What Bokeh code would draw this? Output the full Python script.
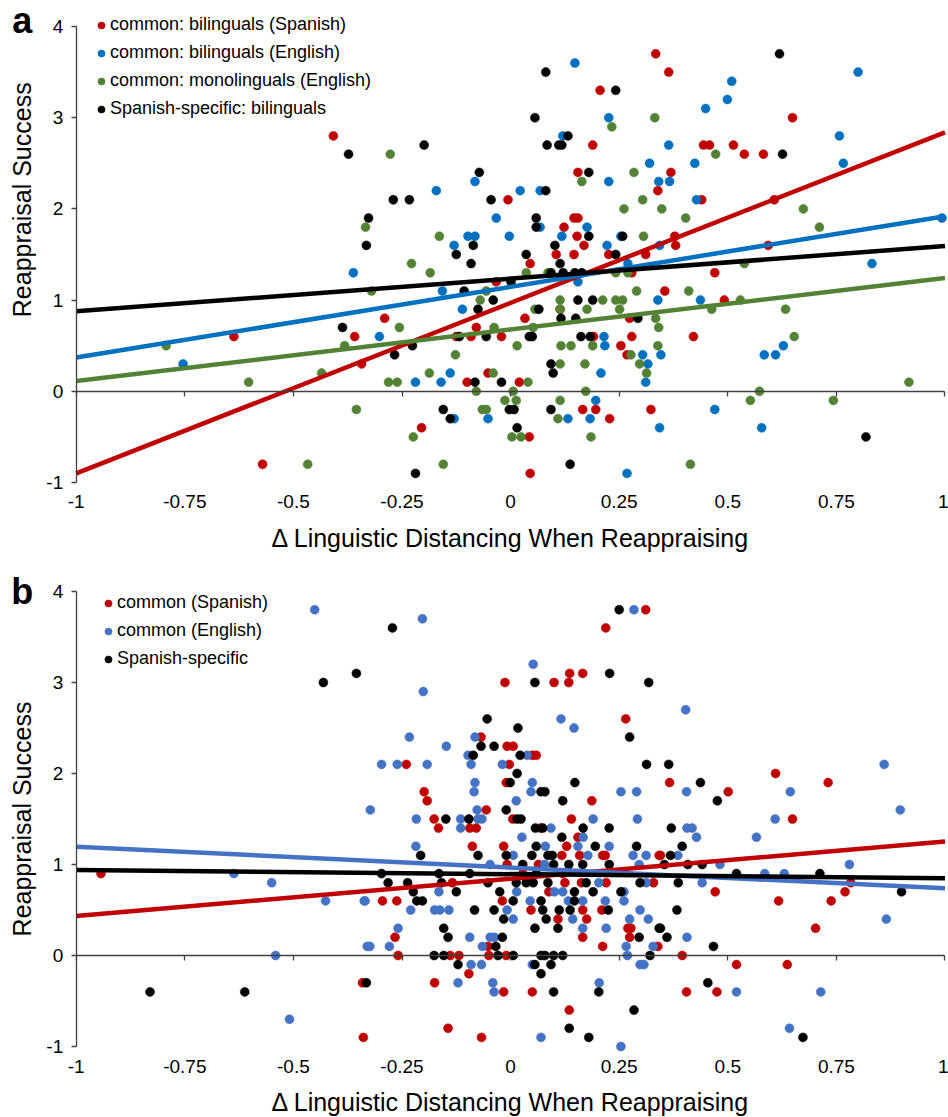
import math
from bokeh.plotting import figure
from bokeh.layouts import column
from bokeh.models import (Range1d, FixedTicker, NumeralTickFormatter, LinearAxis,
                          Legend, LegendItem, Label, CustomJSTickFormatter)
from bokeh.embed import file_html
from bokeh.resources import INLINE

FONT = "Liberation Sans"

x_ticks = [-1, -0.75, -0.5, -0.25, 0, 0.25, 0.5, 0.75, 1]
y_ticks = [-1, 0, 1, 2, 3, 4]
x_title = "Δ Linguistic Distancing When Reappraising"
y_title = "Reappraisal Success"

# ---------------- panel a ----------------
a_labels = ["common: bilinguals (Spanish)", "common: bilinguals (English)",
            "common: monolinguals (English)", "Spanish-specific: bilinguals"]
a_colors = ["#C00000", "#0070C0", "#548235", "#000000"]

a_red_x = [-0.408, 0.334, 0.206, 0.189, 0.155, 0.339, -0.006, 0.146, 0.155, 0.123,
           0.153, 0.169, 0.105, 0.146, 0.226, 0.311, 0.045, 0.364, 0.649, 0.444,
           0.458, 0.513, 0.538, 0.582, 0.369, 0.440, 0.607, 0.378, 0.380, 0.593,
           -0.359, -0.637, -0.343, -0.571, 0.279, -0.033, 0.114, -0.290, 0.033, 0.274,
           -0.079, -0.125, -0.091, -0.021, 0.191, 0.279, 0.254, 0.268, -0.052, -0.100,
           0.020, 0.166, 0.196, 0.323, 0.228, -0.205, 0.043, 0.045, 0.470, 0.355,
           0.492, 0.421]
a_red_y = [2.8, 3.7, 3.3, 2.7, 2.4, 2.2, 2.1, 1.9, 1.9, 1.8,
           1.7, 1.6, 1.5, 1.5, 1.5, 1.5, 1.4, 3.5, 3.0, 2.7,
           2.7, 2.7, 2.6, 2.6, 2.4, 2.1, 2.1, 1.7, 1.6, 1.6,
           0.6, 0.6, 0.3, -0.8, 1.3, 1.2, 0.9, 0.8, 0.8, 0.8,
           0.7, 0.6, 0.6, 0.6, 0.6, 0.6, 0.5, 0.4, 0.2, 0.1,
           0.1, -0.2, -0.2, -0.2, -0.3, -0.4, -0.5, -0.9, 1.3, 1.1,
           1.0, 0.6]

a_blue_x = [0.148, 0.226, 0.120, 0.320, -0.082, 0.226, 0.341, -0.171, 0.022, 0.068,
            -0.033, 0.176, 0.068, -0.098, -0.082, -0.003, 0.118, 0.254, -0.130, 0.222,
            0.800, 0.509, 0.499, 0.449, 0.364, 0.757, 0.766, 0.424, 0.366, 0.428,
            0.993, 0.343, -0.362, -0.754, 0.270, -0.157, 0.155, 0.339, -0.111, -0.302,
            0.215, 0.217, 0.304, 0.346, 0.316, -0.139, 0.208, -0.219, -0.160, 0.311,
            0.196, -0.130, -0.052, 0.132, 0.183, 0.343, 0.268, 0.832, 0.437, 0.584,
            0.610, 0.628, 0.470, 0.578]
a_blue_y = [3.6, 3.0, 2.8, 2.5, 2.3, 2.3, 2.3, 2.2, 2.2, 2.2,
            1.9, 1.8, 1.8, 1.7, 1.7, 1.7, 1.7, 1.7, 1.6, 1.6,
            3.5, 3.4, 3.2, 3.1, 2.7, 2.8, 2.5, 2.5, 2.3, 2.1,
            1.9, 1.6, 1.3, 0.3, 1.4, 1.1, 1.2, 1.0, 0.9, 0.6,
            0.6, 0.5, 0.4, 0.4, 0.3, 0.2, 0.2, 0.1, 0.1, 0.1,
            -0.1, -0.3, -0.3, -0.3, -0.3, -0.4, -0.9, 1.4, 1.0, 0.4,
            0.4, 0.5, -0.2, -0.4]

a_green_x = [-0.334, 0.233, 0.332, -0.277, 0.164, 0.284, 0.304, 0.261, 0.348, -0.164,
             0.306, -0.228, 0.472, 0.403, 0.674, 0.711, -0.793, -0.382, -0.435, -0.603,
             -0.355, -0.467, -0.185, 0.036, 0.086, 0.242, 0.270, -0.320, -0.056, 0.290,
             -0.070, 0.114, 0.212, 0.242, 0.258, 0.056, 0.114, 0.176, 0.251, 0.334,
             -0.256, -0.038, 0.052, 0.341, 0.015, 0.116, 0.139, 0.189, 0.339, -0.127,
             0.277, 0.114, 0.171, 0.297, -0.187, -0.040, 0.313, -0.281, -0.261, 0.040,
             -0.079, 0.006, 0.173, -0.013, 0.013, 0.114, -0.065, -0.056, 0.109, -0.224,
             0.003, 0.024, 0.185, -0.155, 0.538, 0.410, 0.529, 0.463, 0.633, 0.653,
             0.917, 0.573, 0.552, 0.743, 0.414]
a_green_y = [1.8, 2.9, 3.0, 2.6, 2.3, 2.4, 2.1, 2.0, 2.0, 1.7,
             1.7, 1.4, 2.6, 1.9, 2.0, 1.8, 0.5, 0.5, 0.2, 0.1,
             -0.2, -0.8, 1.3, 1.3, 1.3, 1.3, 1.3, 1.1, 1.1, 1.1,
             1.0, 1.0, 1.0, 1.0, 1.0, 0.9, 0.9, 0.9, 0.9, 0.8,
             0.7, 0.7, 0.7, 0.7, 0.5, 0.5, 0.5, 0.5, 0.5, 0.4,
             0.4, 0.3, 0.3, 0.3, 0.2, 0.2, 0.2, 0.1, 0.1, 0.1,
             0.0, 0.0, 0.0, -0.1, -0.1, -0.1, -0.2, -0.2, -0.3, -0.5,
             -0.5, -0.5, -0.5, -0.8, 1.4, 1.1, 1.0, 0.9, 0.9, 0.6,
             0.1, 0.0, -0.1, -0.1, -0.8]

a_black_x = [-0.373, -0.327, -0.332, 0.081, 0.242, 0.056, 0.132, 0.084, 0.111, 0.118,
             -0.199, -0.072, 0.180, 0.081, -0.270, -0.233, -0.045, 0.059, 0.059, 0.180,
             0.258, -0.086, 0.102, -0.125, 0.036, 0.242, 0.619, 0.626, -0.387, -0.091,
             0.114, 0.093, 0.121, 0.148, 0.164, -0.107, 0.001, -0.040, -0.075, 0.155,
             0.189, 0.065, 0.116, 0.150, 0.293, -0.118, -0.056, 0.043, 0.050, 0.162,
             0.183, -0.226, -0.267, 0.093, 0.098, -0.082, -0.021, -0.155, -0.003, 0.008,
             0.093, -0.139, 0.015, 0.137, -0.219, 0.818]
a_black_y = [2.6, 1.9, 1.6, 3.5, 3.3, 3.0, 2.8, 2.7, 2.7, 2.7,
             2.7, 2.4, 2.4, 2.2, 2.1, 2.1, 2.1, 1.9, 1.8, 1.7,
             1.7, 1.6, 1.6, 1.5, 1.5, 1.5, 3.7, 2.6, 0.7, 1.4,
             1.4, 1.3, 1.3, 1.3, 1.3, 1.1, 1.2, 1.0, 0.9, 1.0,
             1.0, 0.9, 0.8, 0.8, 0.8, 0.6, 0.6, 0.6, 0.6, 0.6,
             0.6, 0.5, 0.4, 0.3, 0.2, 0.1, 0.1, -0.2, -0.2, -0.2,
             -0.2, -0.3, -0.4, -0.8, -0.9, -0.5]

# fitted lines (intercept, slope)
a_fit_intercept = [0.97, 1.145, 0.678, 1.235]
a_fit_slope = [1.87, 0.775, 0.565, 0.358]

# ---------------- panel b ----------------
b_labels = ["common (Spanish)", "common (English)", "Spanish-specific"]
b_colors = ["#C00000", "#4472C4", "#000000"]

b_red_x = [0.311, 0.219, 0.136, 0.166, -0.013, 0.100, 0.134, 0.265, -0.068, -0.008,
           0.006, 0.050, 0.059, -0.240, -0.003, -0.010, -0.199, -0.192, 0.187, -0.056,
           0.366, 0.501, 0.610, 0.731, -0.943, -0.341, -0.339, -0.176, 0.005, 0.140,
           -0.166, -0.094, -0.079, 0.069, 0.155, -0.088, -0.016, 0.129, 0.118, 0.159,
           0.212, 0.218, 0.342, -0.008, 0.064, 0.028, 0.120, -0.134, 0.125, 0.163,
           0.220, 0.329, 0.088, -0.295, -0.262, -0.019, 0.047, 0.166, 0.210, 0.109,
           0.175, 0.270, 0.277, -0.266, 0.166, 0.274, -0.052, 0.212, -0.259, -0.139,
           -0.119, -0.050, -0.010, -0.096, -0.175, -0.016, 0.050, 0.135, -0.144, -0.067,
           0.649, 0.345, 0.471, 0.770, 0.617, 0.738, 0.702, 0.339, 0.395, 0.520,
           0.637, 0.405, 0.475, 0.783]
b_red_y = [3.8, 3.6, 3.1, 3.1, 3.0, 3.0, 3.0, 2.6, 2.4, 2.3,
           2.3, 2.2, 2.2, 2.1, 2.1, 1.9, 1.8, 1.7, 1.7, 1.6,
           1.9, 1.8, 2.0, 1.9, 0.9, -0.3, -0.9, 1.5, 1.5, 1.5,
           1.4, 1.4, 1.4, 1.4, 1.3, 1.2, 1.2, 1.2, 1.1, 1.1,
           1.1, 1.1, 1.1, 1.0, 1.0, 0.9, 0.9, 0.8, 0.8, 0.8,
           0.8, 0.8, 0.7, 0.6, 0.6, 0.6, 0.5, 0.5, 0.5, 0.4,
           0.4, 0.3, 0.3, 0.2, 0.2, 0.2, 0.1, 0.1, 0.0, 0.0,
           0.0, 0.0, 0.0, -0.2, -0.3, -0.4, -0.4, -0.6, -0.8, -0.9,
           1.5, 1.1, 0.7, 0.7, 0.6, 0.6, 0.3, 0.1, 0.0, -0.1,
           -0.1, -0.4, -0.4, 0.8]

b_blue_x = [-0.451, 0.284, -0.203, 0.052, -0.201, 0.116, 0.146, -0.233, -0.082, -0.148,
            -0.098, 0.038, -0.297, -0.261, -0.192, -0.091, -0.019, -0.082, 0.050, -0.084,
            0.047, 0.254, 0.290, 0.013, -0.323, -0.077, 0.403, 0.405, 0.644, 0.860,
            0.897, -0.637, -0.550, -0.426, -0.337, -0.330, -0.541, -0.509, -0.217, -0.115,
            -0.075, -0.066, 0.190, 0.292, -0.115, 0.093, 0.026, 0.167, -0.218, 0.080,
            0.155, 0.227, 0.006, 0.178, 0.282, 0.312, -0.047, 0.078, 0.296, 0.203,
            0.312, -0.165, 0.014, 0.101, 0.120, 0.261, -0.335, 0.045, 0.133, 0.166,
            0.218, 0.261, -0.230, -0.175, -0.163, -0.142, -0.008, 0.298, 0.006, 0.143,
            0.274, 0.317, -0.259, 0.166, 0.220, -0.094, -0.047, -0.037, -0.324, -0.279,
            -0.065, 0.266, 0.328, 0.269, -0.091, -0.067, 0.050, 0.298, 0.307, -0.121,
            -0.041, 0.204, -0.038, 0.070, 0.254, 0.609, 0.406, 0.418, 0.428, 0.566,
            0.385, 0.482, 0.780, 0.585, 0.630, 0.441, 0.865, 0.406, 0.520, 0.714,
            0.642]
b_blue_y = [3.8, 3.8, 3.7, 3.2, 2.9, 2.6, 2.5, 2.4, 2.4, 2.3,
            2.2, 2.2, 2.1, 2.1, 2.1, 2.1, 2.1, 1.9, 1.9, 1.8,
            1.8, 1.8, 1.8, 1.7, 1.6, 1.6, 2.7, 1.8, 1.8, 2.1,
            1.6, 0.9, 0.8, 0.6, 0.6, 0.1, 0.0, -0.7, 1.5, 1.5,
            1.5, 1.5, 1.5, 1.5, 1.4, 1.4, 1.3, 1.3, 1.2, 1.2,
            1.2, 1.2, 1.1, 1.1, 1.1, 1.1, 1.0, 1.0, 1.0, 0.8,
            0.8, 0.7, 0.7, 0.7, 0.7, 0.7, 0.6, 0.6, 0.6, 0.6,
            0.6, 0.6, 0.5, 0.5, 0.5, 0.5, 0.5, 0.5, 0.4, 0.4,
            0.4, 0.4, 0.3, 0.3, 0.3, 0.2, 0.2, 0.2, 0.1, 0.1,
            0.1, 0.1, 0.1, 0.0, -0.1, -0.1, -0.1, -0.1, -0.1, -0.3,
            -0.3, -0.3, -0.4, -0.9, -1.0, 1.5, 1.4, 1.4, 1.3, 1.3,
            1.1, 1.0, 1.0, 0.9, 0.9, 0.8, 0.4, 0.2, -0.4, -0.4,
            -0.8]

b_black_x = [0.250, -0.272, -0.431, -0.355, 0.228, 0.056, 0.318, -0.054, 0.017, 0.274,
             -0.068, -0.038, -0.086, 0.022, 0.313, 0.015, -0.001, 0.148, 0.070, 0.079,
             0.120, -0.010, 0.364, 0.437, 0.476, -0.830, -0.612, -0.332, -0.149, -0.096,
             0.015, 0.024, 0.057, 0.074, 0.167, 0.227, 0.118, 0.059, 0.195, 0.290,
             -0.207, -0.075, -0.010, 0.049, 0.086, 0.096, 0.028, 0.099, 0.134, 0.166,
             0.227, -0.297, -0.165, -0.094, 0.059, -0.282, -0.237, -0.159, -0.052, 0.013,
             0.036, 0.052, 0.086, 0.174, 0.298, -0.224, -0.125, -0.025, 0.147, 0.190,
             0.254, -0.216, -0.203, 0.006, 0.070, 0.147, -0.083, -0.038, 0.074, 0.112,
             0.137, 0.225, -0.016, 0.082, -0.154, 0.056, 0.109, 0.342, -0.144, -0.019,
             0.296, -0.034, -0.176, -0.154, -0.029, 0.006, 0.070, 0.079, 0.099, 0.120,
             0.321, -0.121, 0.056, 0.093, 0.070, 0.099, 0.203, 0.284, 0.135, 0.180,
             0.370, 0.395, 0.368, 0.354, 0.408, 0.441, 0.520, 0.712, 0.386, 0.900,
             0.383, 0.345, 0.360, 0.467, 0.454, 0.673]
b_black_y = [3.8, 3.6, 3.0, 3.1, 3.1, 3.0, 3.0, 2.6, 2.5, 2.4,
             2.3, 2.3, 2.2, 2.2, 2.1, 2.0, 1.9, 1.9, 1.8, 1.8,
             1.7, 1.6, 2.1, 1.9, 1.7, -0.4, -0.4, -0.3, 1.5, 1.5,
             1.5, 1.5, 1.4, 1.4, 1.4, 1.4, 1.3, 1.2, 1.2, 1.2,
             1.1, 1.1, 1.1, 1.1, 1.1, 1.1, 1.0, 1.0, 1.0, 1.0,
             1.0, 0.9, 0.9, 0.9, 0.9, 0.8, 0.8, 0.8, 0.8, 0.8,
             0.8, 0.8, 0.8, 0.8, 0.8, 0.7, 0.7, 0.7, 0.7, 0.7,
             0.7, 0.6, 0.6, 0.6, 0.6, 0.6, 0.5, 0.5, 0.5, 0.5,
             0.5, 0.5, 0.4, 0.4, 0.3, 0.3, 0.3, 0.3, 0.2, 0.2,
             0.2, 0.1, 0.0, 0.0, 0.0, 0.0, 0.0, 0.0, 0.0, 0.0,
             0.0, -0.1, -0.1, -0.1, -0.2, -0.4, -0.4, -0.6, -0.8, -0.9,
             1.4, 1.2, 1.1, 1.0, 1.0, 1.0, 0.9, 0.9, 0.8, 0.7,
             0.5, 0.3, 0.2, 0.1, -0.3, -0.9]

b_fit_intercept = [0.843, 0.967, 0.894]
b_fit_slope = [0.409, -0.229, -0.046]

AXIS_COLOR = "#404040"


def make_panel(height, y_lo, y_hi, xs, ys, labels, colors, icpts, slopes,
               legend_loc, letter, letter_dy, ytitle_at):
    # the frame fills the whole canvas; the axes are pinned at x=-1 / y=-1 / y=0
    p = figure(width=948, height=height,
               x_range=Range1d(-1.1743, 1.0081), y_range=Range1d(y_lo, y_hi),
               x_axis_location=None, y_axis_location=None,
               output_backend="svg", toolbar_location=None, min_border=0)
    p.xgrid.visible = False
    p.ygrid.visible = False
    p.outline_line_color = None

    ya = LinearAxis(fixed_location=-1, bounds=(-1, 4),
                    ticker=FixedTicker(ticks=y_ticks),
                    formatter=NumeralTickFormatter(format="0"))
    ya.axis_line_color = AXIS_COLOR
    ya.axis_line_width = 1.3
    ya.major_tick_line_color = AXIS_COLOR
    ya.major_tick_line_width = 1.3
    ya.minor_tick_line_color = None
    ya.major_tick_out = 5
    ya.major_tick_in = 0
    ya.major_label_standoff = 8
    ya.major_label_text_font = FONT
    ya.major_label_text_font_size = "19px"
    ya.major_label_text_color = "#000000"
    p.add_layout(ya, "left")

    # vertical axis title
    p.add_layout(Label(x=-1, y=ytitle_at, x_offset=-54, text=y_title, angle=math.pi / 2,
                       text_font=FONT, text_font_size="25px", text_color="#000000",
                       text_align="center", text_baseline="middle"))

    xa = LinearAxis(fixed_location=-1, bounds=(-1, 1),
                    ticker=FixedTicker(ticks=x_ticks),
                    formatter=NumeralTickFormatter(format="0.[00]"))
    xa.axis_line_color = None
    xa.major_tick_line_color = None
    xa.minor_tick_line_color = None
    xa.major_tick_out = 0
    xa.major_tick_in = 0
    xa.major_label_standoff = 13
    xa.major_label_text_font = FONT
    xa.major_label_text_font_size = "19px"
    xa.major_label_text_color = "#000000"
    xa.axis_label = x_title
    xa.axis_label_text_font = FONT
    xa.axis_label_text_font_size = "25px"
    xa.axis_label_text_font_style = "normal"
    xa.axis_label_text_color = "#000000"
    xa.axis_label_standoff = 12
    p.add_layout(xa, "below")

    # horizontal axis line crossing at y = 0, ticks pointing down, no labels
    za = LinearAxis(fixed_location=0, bounds=(-1, 1),
                    ticker=FixedTicker(ticks=x_ticks),
                    formatter=CustomJSTickFormatter(code="return ''"))
    za.axis_line_color = AXIS_COLOR
    za.axis_line_width = 1.3
    za.major_tick_line_color = AXIS_COLOR
    za.major_tick_line_width = 1.3
    za.minor_tick_line_color = None
    za.major_tick_out = 5
    za.major_tick_in = 0
    p.add_layout(za, "below")

    items = []
    for x, y, lab, col in zip(xs, ys, labels, colors):
        r = p.scatter(x, y, size=9, marker="circle", fill_color=col, line_color=col,
                      line_width=0.5)
        items.append(LegendItem(label=lab, renderers=[r]))

    for a, b, col in zip(icpts, slopes, colors):
        p.line([-1, 1], [a - b, a + b], line_color=col, line_width=4.5)

    leg = Legend(items=items, location=legend_loc, orientation="vertical",
                 border_line_color=None, background_fill_alpha=0,
                 padding=0, margin=0, spacing=7, glyph_width=18, glyph_height=20,
                 label_height=20, label_standoff=0,
                 label_text_font=FONT, label_text_font_size="18px",
                 label_text_color="#000000")
    p.add_layout(leg)

    p.add_layout(Label(x=-1, y=4, x_offset=-54, y_offset=letter_dy, text=letter,
                       text_font=FONT, text_font_style="bold", text_font_size="36px",
                       text_align="center", text_baseline="alphabetic",
                       text_color="#000000"))
    return p


pa = make_panel(560, -1.8553, 4.2851,
                [a_red_x, a_blue_x, a_green_x, a_black_x],
                [a_red_y, a_blue_y, a_green_y, a_black_y],
                a_labels, a_colors, a_fit_intercept, a_fit_slope,
                (92, 441), "a", 6, 2.1)
pb = make_panel(557, -1.7802, 4.3407,
                [b_red_x, b_blue_x, b_black_x],
                [b_red_y, b_blue_y, b_black_y],
                b_labels, b_colors, b_fit_intercept, b_fit_slope,
                (99, 448), "b", 0, 1.5)

layout = column(pa, pb, spacing=0)
open("out.html", "w").write(file_html(layout, INLINE))
